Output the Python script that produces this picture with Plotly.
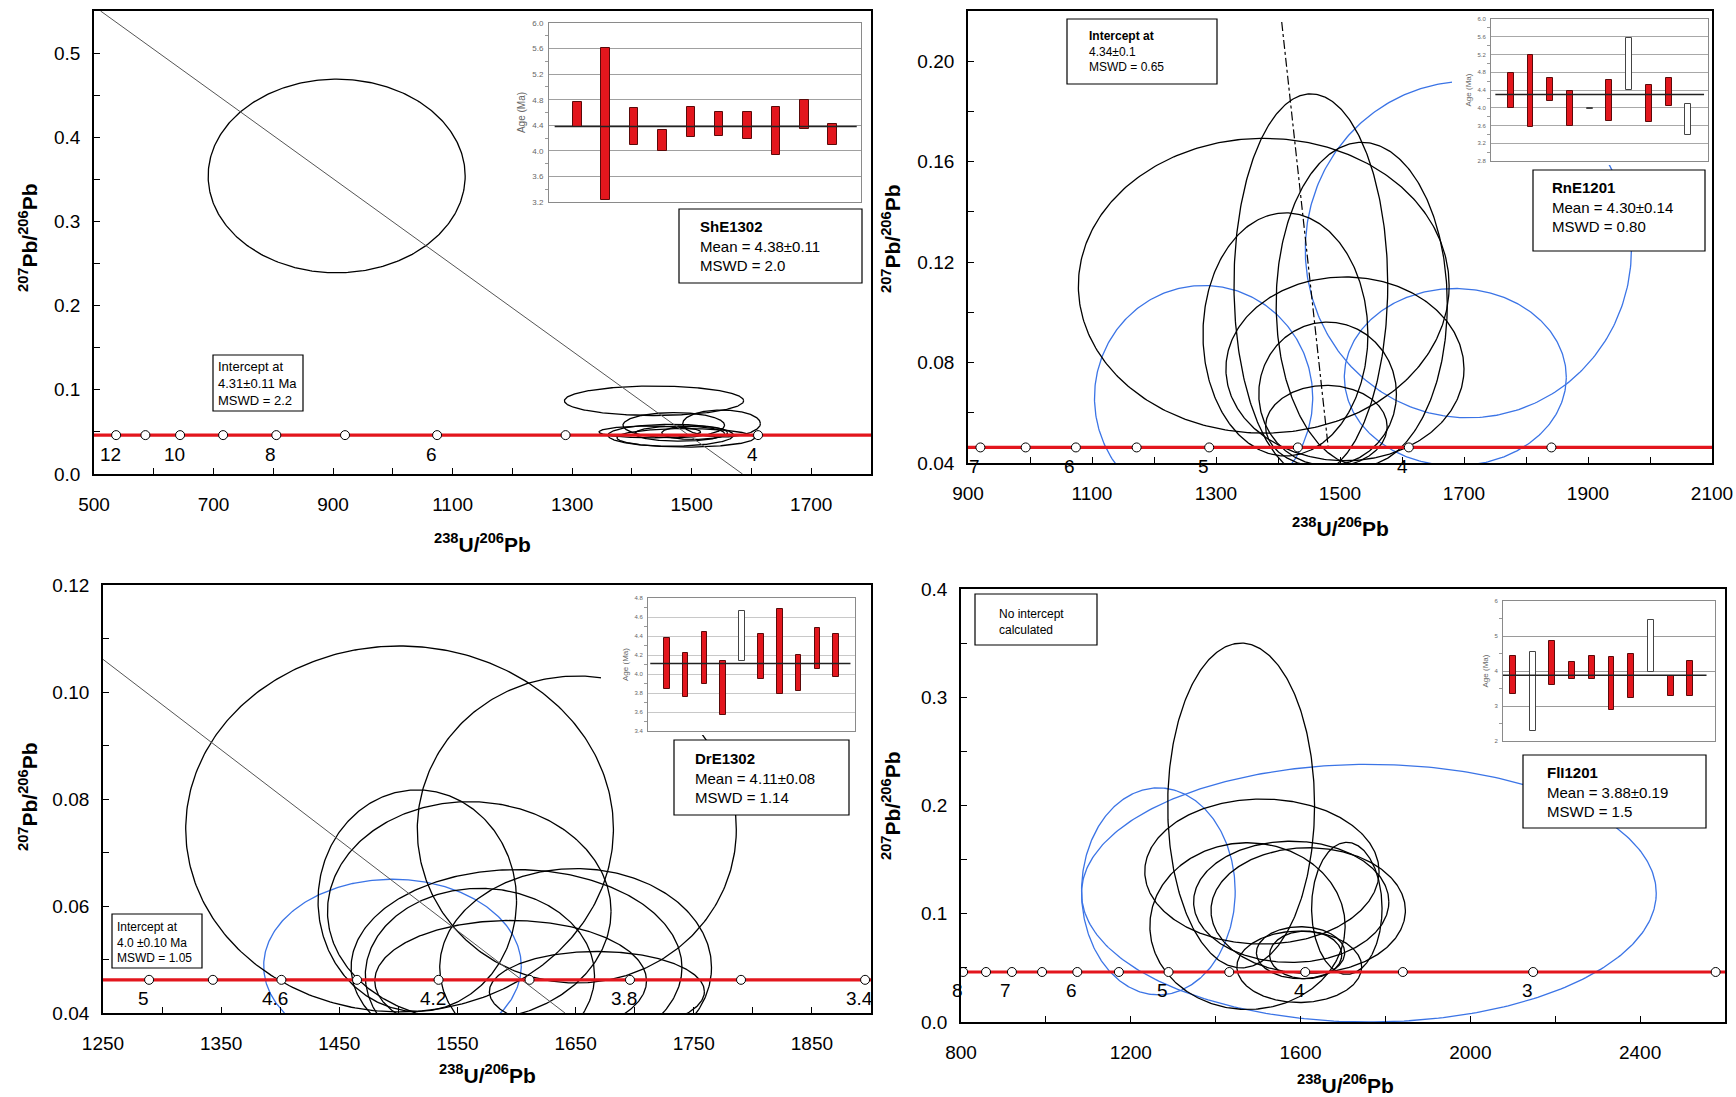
import numpy as np
import plotly.graph_objects as go

W, H = 1736, 1097
NARROW = "Liberation Sans Narrow, Arial Narrow, Liberation Sans, Arial"
SANS = "Liberation Sans, Arial, sans-serif"
RED = "#e3161d"
BLUE = "#3b74e6"

# ---------------- shared concordia ----------------
CONC_Y = 0.0462  # 207Pb/206Pb of the young concordia

# ---------------- panel 1 : ShE1302 ----------------
P1_XRANGE = [500, 1800]
P1_YRANGE = [0.0, 0.55]
P1_AGES = [12, 11, 10, 9, 8, 7, 6, 5, 4]
P1_AGE_X = [537, 586, 644, 716, 805, 920, 1074, 1289, 1611]
P1_AGE_LABELS = [12, 10, 8, 6, 4]
P1_ELL_X = [906, 1437, 1470, 1550, 1430, 1465, 1480, 1490, 1505]
P1_ELL_Y = [0.354, 0.087, 0.058, 0.060, 0.050, 0.046, 0.048, 0.043, 0.049]
P1_ELL_RX = [215, 150, 85, 65, 85, 105, 75, 115, 55]
P1_ELL_RY = [0.115, 0.0175, 0.015, 0.016, 0.007, 0.013, 0.009, 0.011, 0.008]
P1_DISC_X = [511, 1585]
P1_DISC_Y = [0.55, 0.0]

# ---------------- panel 2 : RnE1201 ----------------
P2_XRANGE = [900, 2100]
P2_YRANGE = [0.04, 0.22]
P2_AGES = [7, 6.5, 6, 5.5, 5, 4.5, 4, 3.5]
P2_AGE_X = [920, 993, 1074, 1172, 1289, 1432, 1611, 1841]
P2_AGE_LABELS = [7, 6, 5, 4]
P2_ELL_X = [1377, 1453, 1535, 1412, 1508, 1480, 1478]
P2_ELL_Y = [0.1106, 0.111, 0.1033, 0.0912, 0.0775, 0.0675, 0.0545]
P2_ELL_RX = [299, 124, 138, 133, 192, 111, 98]
P2_ELL_RY = [0.0587, 0.076, 0.0644, 0.0484, 0.0366, 0.0286, 0.0164]
P2_BLUE_X = [1280, 1686, 1707]
P2_BLUE_Y = [0.066, 0.0742, 0.125]
P2_BLUE_RX = [176, 179, 263]
P2_BLUE_RY = [0.0447, 0.0353, 0.067]
P2_DISC_X = [1406, 1481]
P2_DISC_Y = [0.2156, 0.0462]

# ---------------- panel 3 : DrE1302 ----------------
P3_XRANGE = [1250, 1900]
P3_YRANGE = [0.04, 0.12]
P3_AGES = [5.0, 4.8, 4.6, 4.4, 4.2, 4.0, 3.8, 3.6, 3.4]
P3_AGE_X = [1289, 1343, 1401, 1465, 1534, 1611, 1696, 1790, 1895]
P3_AGE_LABELS = [5, 4.6, 4.2, 3.8, 3.4]
P3_ELL_X = [1501, 1651, 1516, 1560, 1600, 1650, 1569, 1595, 1668]
P3_ELL_Y = [0.0744, 0.0743, 0.061, 0.059, 0.0485, 0.0485, 0.047, 0.046, 0.044]
P3_ELL_RX = [181, 135, 84, 120, 140, 115, 97, 115, 91]
P3_ELL_RY = [0.0342, 0.0287, 0.0207, 0.0205, 0.0183, 0.0185, 0.0163, 0.0113, 0.0075]
P3_BLUE_X = [1495]
P3_BLUE_Y = [0.0488]
P3_BLUE_RX = [109]
P3_BLUE_RY = [0.0162]
P3_DISC_X = [1250, 1641]
P3_DISC_Y = [0.1061, 0.04]

# ---------------- panel 4 : FlI1201 ----------------
P4_XRANGE = [800, 2600]
P4_YRANGE = [0.0, 0.4]
P4_AGES = [8, 7.5, 7, 6.5, 6, 5.5, 5, 4.5, 4, 3.5, 3, 2.5]
P4_AGE_X = [805, 859, 920, 991, 1074, 1172, 1289, 1432, 1611, 1841, 2148, 2578]
P4_AGE_LABELS = [8, 7, 6, 5, 4, 3]
P4_ELL_X = [1460, 1509, 1475, 1578, 1618, 1709, 1597, 1600, 1612]
P4_ELL_Y = [0.200, 0.139, 0.0886, 0.111, 0.103, 0.105, 0.051, 0.064, 0.062]
P4_ELL_RX = [173, 276, 230, 230, 229, 83, 147, 104, 85]
P4_ELL_RY = [0.150, 0.067, 0.077, 0.056, 0.058, 0.061, 0.033, 0.024, 0.022]
P4_BLUE_X = [1265, 1761]
P4_BLUE_Y = [0.1207, 0.119]
P4_BLUE_RX = [181, 677]
P4_BLUE_RY = [0.0956, 0.119]

# ---------------- weighted-mean insets (age, Ma) ----------------
I1_HI = [4.76, 5.61, 4.67, 4.32, 4.68, 4.61, 4.61, 4.69, 4.79, 4.42]
I1_LO = [4.38, 3.23, 4.09, 4.00, 4.22, 4.24, 4.18, 3.94, 4.34, 4.09]
I1_USED = [1, 1, 1, 1, 1, 1, 1, 1, 1, 1]
I1_MEAN = 4.38

I2_HI = [4.78, 5.19, 4.66, 4.37, 4.00, 4.63, 5.58, 4.51, 4.67, 4.09]
I2_LO = [4.00, 3.56, 4.16, 3.58, 3.98, 3.71, 4.39, 3.68, 4.04, 3.39]
I2_USED = [1, 1, 1, 1, 0, 1, 0, 1, 1, 0]
I2_MEAN = 4.30

I3_HI = [4.38, 4.22, 4.44, 4.14, 4.66, 4.42, 4.68, 4.20, 4.48, 4.42]
I3_LO = [3.84, 3.76, 3.89, 3.57, 4.14, 3.95, 3.79, 3.82, 4.05, 3.97]
I3_USED = [1, 1, 1, 1, 0, 1, 1, 1, 1, 1]
I3_MEAN = 4.11

I4_HI = [4.42, 4.55, 4.87, 4.25, 4.43, 4.40, 4.50, 5.47, 3.85, 4.29]
I4_LO = [3.35, 2.29, 3.59, 3.78, 3.78, 2.88, 3.23, 3.96, 3.30, 3.30]
I4_USED = [1, 0, 1, 1, 1, 1, 1, 0, 1, 1]
I4_MEAN = 3.88


def px_x(p):
    return p / W


def px_y(p):
    return 1 - p / H


fig = go.Figure()


def ellipse_trace(cx, cy, rx, ry, color, xa, ya):
    xs, ys = [], []
    t = np.linspace(0, 2 * np.pi, 361)
    for a, b, r1, r2 in zip(cx, cy, rx, ry):
        xs += list(a + r1 * np.cos(t)) + [None]
        ys += list(b + r2 * np.sin(t)) + [None]
    return go.Scatter(x=xs, y=ys, mode="lines", line=dict(color=color, width=1.3),
                      xaxis=xa, yaxis=ya, hoverinfo="skip", showlegend=False)


def add_panel(n, xrange_, ages, age_x, labels, black, blue=None, disc=None, disc_style=None):
    xa, ya = ("x", "y") if n == 1 else (f"x{n}", f"y{n}")
    if blue is not None:
        fig.add_trace(ellipse_trace(*blue, BLUE, xa, ya))
    fig.add_trace(ellipse_trace(*black, "black", xa, ya))
    if disc is not None:
        fig.add_trace(go.Scatter(x=disc[0], y=disc[1], mode="lines", xaxis=xa, yaxis=ya,
                                 line=disc_style, hoverinfo="skip", showlegend=False))
    # concordia curve and age ticks
    fig.add_trace(go.Scatter(x=xrange_, y=[CONC_Y, CONC_Y], mode="lines", xaxis=xa, yaxis=ya,
                             line=dict(color=RED, width=3.2), hoverinfo="skip", showlegend=False))
    fig.add_trace(go.Scatter(x=age_x, y=[CONC_Y] * len(age_x), mode="markers", xaxis=xa, yaxis=ya,
                             marker=dict(symbol="circle", size=9, color="white",
                                         line=dict(color="black", width=1)),
                             hoverinfo="skip", showlegend=False))
    for lab in labels:
        xv = age_x[ages.index(lab)]
        fig.add_annotation(x=xv, y=CONC_Y, xref=xa, yref=ya, text=f"{lab:g}", showarrow=False,
                           xshift=-6, yshift=-19, font=dict(family=NARROW, size=19, color="black"))


add_panel(1, P1_XRANGE, P1_AGES, P1_AGE_X, P1_AGE_LABELS,
          (P1_ELL_X, P1_ELL_Y, P1_ELL_RX, P1_ELL_RY),
          disc=(P1_DISC_X, P1_DISC_Y), disc_style=dict(color="#555555", width=1))
add_panel(2, P2_XRANGE, P2_AGES, P2_AGE_X, P2_AGE_LABELS,
          (P2_ELL_X, P2_ELL_Y, P2_ELL_RX, P2_ELL_RY),
          blue=(P2_BLUE_X, P2_BLUE_Y, P2_BLUE_RX, P2_BLUE_RY),
          disc=(P2_DISC_X, P2_DISC_Y), disc_style=dict(color="black", width=1.2, dash="dashdot"))
add_panel(3, P3_XRANGE, P3_AGES, P3_AGE_X, P3_AGE_LABELS,
          (P3_ELL_X, P3_ELL_Y, P3_ELL_RX, P3_ELL_RY),
          blue=(P3_BLUE_X, P3_BLUE_Y, P3_BLUE_RX, P3_BLUE_RY),
          disc=(P3_DISC_X, P3_DISC_Y), disc_style=dict(color="#555555", width=1))
add_panel(4, P4_XRANGE, P4_AGES, P4_AGE_X, P4_AGE_LABELS,
          (P4_ELL_X, P4_ELL_Y, P4_ELL_RX, P4_ELL_RY),
          blue=(P4_BLUE_X, P4_BLUE_Y, P4_BLUE_RX, P4_BLUE_RY))

# white backing panels (subplots 5-8) that mask the diagram behind each inset
BACKS = [(512, 867, 16, 207), (1452, 1709, 14, 165), (601, 868, 589, 735), (1470, 1722, 593, 745)]
for i, (bx0, bx1, by0, by1) in enumerate(BACKS):
    n = 5 + i
    fig.add_trace(go.Scatter(x=[None], y=[None], xaxis=f"x{n}", yaxis=f"y{n}",
                             mode="markers", hoverinfo="skip", showlegend=False))
    hidden = dict(showline=False, showticklabels=False, showgrid=False, zeroline=False,
                  ticks="", automargin=False, range=[0, 1], fixedrange=True)
    fig.layout[f"xaxis{n}"] = dict(domain=[px_x(bx0), px_x(bx1)], anchor=f"y{n}", **hidden)
    fig.layout[f"yaxis{n}"] = dict(domain=[px_y(by1), px_y(by0)], anchor=f"x{n}", **hidden)


def add_inset(n, hi, lo, used, mean, mean_span):
    xa, ya = f"x{n}", f"y{n}"
    pos = list(range(1, len(hi) + 1))
    fill = [RED if u else "white" for u in used]
    edge = ["#5a0a0a" if u else "#444444" for u in used]
    fig.add_trace(go.Bar(x=pos, y=[h - l for h, l in zip(hi, lo)], base=lo, width=0.3,
                         marker=dict(color=fill, line=dict(color=edge, width=1)),
                         xaxis=xa, yaxis=ya, hoverinfo="skip", showlegend=False))
    fig.add_trace(go.Scatter(x=mean_span, y=[mean, mean], mode="lines", xaxis=xa, yaxis=ya,
                             line=dict(color="#222222", width=1.6), hoverinfo="skip", showlegend=False))


add_inset(9, I1_HI, I1_LO, I1_USED, I1_MEAN, [0.2, 10.85])
add_inset(10, I2_HI, I2_LO, I2_USED, I2_MEAN, [0.22, 10.8])
add_inset(11, I3_HI, I3_LO, I3_USED, I3_MEAN, [0.12, 10.76])
add_inset(12, I4_HI, I4_LO, I4_USED, I4_MEAN, [0.5, 10.82])

TICKFONT = dict(family=NARROW, size=19, color="black")


def main_axes(n, xdom, ydom, xr, yr, xdt, xminor, ydt, yminor, yfmt):
    sx = "" if n == 1 else str(n)
    common = dict(showline=True, linecolor="black", linewidth=1.8, mirror=True,
                  ticks="inside", ticklen=6, tickwidth=1, tickcolor="black",
                  showgrid=False, zeroline=False, tickfont=TICKFONT, automargin=False)
    fig.layout[f"xaxis{sx}"] = dict(domain=[px_x(xdom[0]), px_x(xdom[1])], range=xr,
                                   anchor=f"y{sx}", tick0=xr[0], dtick=xdt,
                                   minor=dict(ticks="inside", dtick=xminor, tick0=xr[0],
                                              ticklen=6, tickcolor="black"),
                                   ticklabelstandoff=12, **common)
    fig.layout[f"yaxis{sx}"] = dict(domain=[px_y(ydom[1]), px_y(ydom[0])], range=yr,
                                   anchor=f"x{sx}", tick0=yr[0], dtick=ydt, tickformat=yfmt,
                                   minor=dict(ticks="inside", dtick=yminor, tick0=yr[0],
                                              ticklen=6, tickcolor="black"),
                                   ticklabelstandoff=8, **common)


main_axes(1, (94, 871), (11, 474), P1_XRANGE, P1_YRANGE, 200, 100, 0.1, 0.05, ".1f")
main_axes(2, (968, 1712), (11, 463), P2_XRANGE, P2_YRANGE, 200, 100, 0.04, 0.02, ".2f")
main_axes(3, (103, 871), (585, 1013), P3_XRANGE, P3_YRANGE, 100, 50, 0.02, 0.01, ".2f")
main_axes(4, (961, 1725), (589, 1022), P4_XRANGE, P4_YRANGE, 400, 200, 0.1, 0.05, ".1f")


def inset_axes(n, xdom, ydom, xr, yr, dt, fmt, fsize, gridc):
    fig.layout[f"xaxis{n}"] = dict(domain=[px_x(xdom[0]), px_x(xdom[1])], range=xr,
                                  anchor=f"y{n}", showticklabels=False, ticks="",
                                  showgrid=False, zeroline=False, showline=True,
                                  linecolor="#8a8a8a", linewidth=1, mirror=True, automargin=False)
    fig.layout[f"yaxis{n}"] = dict(domain=[px_y(ydom[1]), px_y(ydom[0])], range=yr,
                                  anchor=f"x{n}", dtick=dt, tick0=yr[0], tickformat=fmt,
                                  showgrid=True, gridcolor=gridc, gridwidth=1, zeroline=False,
                                  showline=True, linecolor="#8a8a8a", linewidth=1, mirror=True,
                                  ticks="", minor=dict(ticks="outside", ticklen=3, dtick=dt / 2,
                                                       tickcolor="#999999"),
                                  tickfont=dict(family=SANS, size=fsize, color="#666666"),
                                  ticklabelstandoff=3, automargin=False,
                                  title=dict(text="Age (Ma)", standoff=4,
                                             font=dict(family=SANS, size=fsize + 2, color="#666666")))


inset_axes(9, (549, 861), (23, 202), [0, 11], [3.2, 6.0], 0.4, ".1f", 8, "#a0a0a0")
inset_axes(10, (1491, 1708), (19, 161), [0, 11], [2.8, 6.0], 0.4, ".1f", 6, "#a8a8a8")
inset_axes(11, (648, 855), (598, 731), [0, 11], [3.4, 4.8], 0.2, ".1f", 6, "#c8c8c8")
inset_axes(12, (1503, 1715), (601, 741), [0.5, 11.25], [2, 6], 1, "d", 6, "#9a9a9a")


# ---------------- boxed labels ----------------
def text_box(x0, y0, x1, y1, text, tx, ty, size, family):
    fig.add_shape(type="rect", xref="paper", yref="paper", layer="above",
                  x0=px_x(x0), x1=px_x(x1), y0=px_y(y1), y1=px_y(y0),
                  fillcolor="white", line=dict(color="black", width=1.2))
    fig.add_annotation(x=px_x(tx), y=px_y(ty), xref="paper", yref="paper", text=text,
                       showarrow=False, xanchor="left", yanchor="middle", align="left",
                       font=dict(family=family, size=size, color="black"))


text_box(679, 209, 862, 283, "<b>ShE1302</b><br>Mean = 4.38±0.11<br>MSWD = 2.0", 698, 246, 15, SANS)
text_box(1533, 170, 1705, 251, "<b>RnE1201</b><br>Mean = 4.30±0.14<br>MSWD = 0.80", 1550, 207, 15, SANS)
text_box(674, 740, 849, 815, "<b>DrE1302</b><br>Mean = 4.11±0.08<br>MSWD = 1.14", 693, 778, 15, SANS)
text_box(1523, 755, 1706, 828, "<b>FlI1201</b><br>Mean = 3.88±0.19<br>MSWD = 1.5", 1545, 792, 15, SANS)

text_box(213, 355, 303, 411, "Intercept at<br>4.31±0.11 Ma<br>MSWD = 2.2", 216, 383, 13, NARROW)
text_box(1067, 19, 1217, 84, "<b>Intercept at</b><br>4.34±0.1<br>MSWD = 0.65", 1087, 51, 12, NARROW)
text_box(112, 914, 202, 968, "Intercept at<br>4.0 ±0.10 Ma<br>MSWD = 1.05", 115, 942, 12, NARROW)
text_box(975, 594, 1097, 645, "No intercept<br>calculated", 997, 622, 12, NARROW)

# ---------------- axis titles ----------------
XT = "<b><sup>238</sup>U/<sup>206</sup>Pb</b>"
YT = "<b><sup>207</sup>Pb/<sup>206</sup>Pb</b>"
for (x, y) in [(483, 543), (1340, 527), (487, 1074), (1345, 1084)]:
    fig.add_annotation(x=px_x(x), y=px_y(y), xref="paper", yref="paper", text=XT, showarrow=False,
                       xanchor="center", yanchor="middle", font=dict(family=SANS, size=21, color="black"))
for (x, y) in [(28, 238), (891, 238), (28, 797), (891, 805)]:
    fig.add_annotation(x=px_x(x), y=px_y(y), xref="paper", yref="paper", text=YT, showarrow=False,
                       textangle=-90, xanchor="center", yanchor="middle",
                       font=dict(family=SANS, size=21, color="black"))

fig.update_layout(template="none", width=W, height=H, margin=dict(l=0, r=0, t=0, b=0, autoexpand=False),
                  paper_bgcolor="white", plot_bgcolor="white", showlegend=False, bargap=0)

fig.write_html("out.html")
